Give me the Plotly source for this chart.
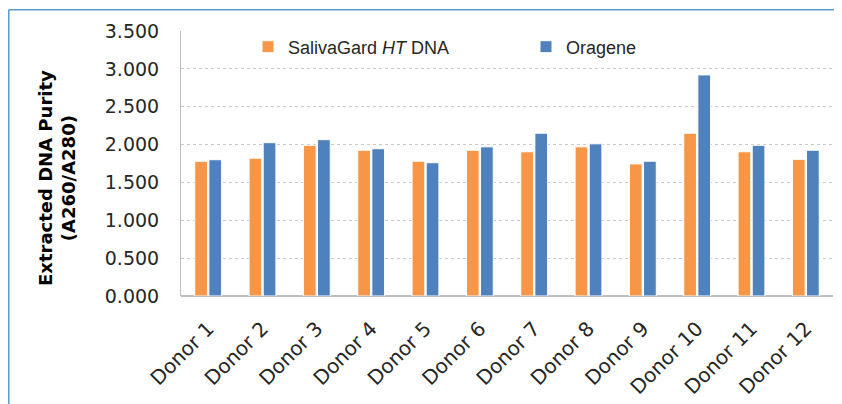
import plotly.graph_objects as go

donors = ["Donor 1", "Donor 2", "Donor 3", "Donor 4", "Donor 5", "Donor 6",
          "Donor 7", "Donor 8", "Donor 9", "Donor 10", "Donor 11", "Donor 12"]
salivagard = [1.78, 1.82, 1.99, 1.925, 1.78, 1.925, 1.905, 1.97, 1.745, 2.15, 1.905, 1.805]
oragene = [1.80, 2.025, 2.065, 1.945, 1.76, 1.97, 2.15, 2.01, 1.78, 2.92, 1.99, 1.925]
y_ticks = [0, 0.5, 1.0, 1.5, 2.0, 2.5, 3.0, 3.5]
y_tick_labels = ["0.000", "0.500", "1.000", "1.500", "2.000", "2.500", "3.000", "3.500"]

FONT = "DejaVu Sans, Verdana, sans-serif"
LFONT = "Liberation Sans, Arial, sans-serif"
TXT = "#262626"

fig = go.Figure()
fig.add_trace(go.Bar(x=donors, y=salivagard, name="SalivaGard <i>HT</i> DNA",
                     marker=dict(color="#F79646", line=dict(color="white", width=1))))
fig.add_trace(go.Bar(x=donors, y=oragene, name="Oragene",
                     marker=dict(color="#4F81BD", line=dict(color="white", width=1))))

# page body has 8px margin; work in figure coordinates (window - 8)
OFF = 8
W, H = 842 - OFF, 404 - OFF
L, R, T, B = 181 - OFF, 833 - OFF, 31 - OFF, 296 - OFF
pw, ph = R - L, B - T

def px(x):
    return (x - OFF - L) / pw

def py(y):
    return (B - (y - OFF)) / ph

fig.update_layout(
    width=W, height=H,
    margin=dict(l=L, r=W - R, t=T, b=H - B, pad=0),
    paper_bgcolor="white", plot_bgcolor="white",
    font=dict(family=FONT, size=17, color=TXT),
    barmode="group", bargap=0.48, bargroupgap=0.1,
    showlegend=True,
    legend=dict(orientation="h", x=px(248), y=py(47), xanchor="left", yanchor="middle",
                entrywidth=233, entrywidthmode="pixels",
                font=dict(family=LFONT, size=18, color=TXT), bgcolor="rgba(0,0,0,0)",
                traceorder="normal"),
    xaxis=dict(tickangle=-45, tickfont=dict(family=FONT, size=20, color=TXT),
               showline=False, ticks="", showgrid=False, automargin=False,
               ticklabelstandoff=16),
    yaxis=dict(range=[0, 3.5], tickvals=y_ticks, ticktext=y_tick_labels,
               tickfont=dict(family=FONT, size=19, color=TXT),
               showgrid=True, gridcolor="#C8C8C8", griddash="dot", gridwidth=1,
               showline=True, linecolor="#BFBFBF", linewidth=1,
               zeroline=True, zerolinecolor="#BFBFBF", zerolinewidth=1.5,
               ticks="", ticklabelstandoff=17, automargin=False),
    annotations=[dict(text="<b>Extracted DNA Purity<br>(A260/A280)</b>", textangle=-90,
                      xref="paper", yref="paper", x=px(57), y=py(178),
                      xanchor="center", yanchor="middle",
                      showarrow=False, font=dict(family=FONT, size=18, color="black"))],
    shapes=[
        dict(type="line", xref="paper", yref="paper", x0=px(8.75), x1=px(860), y0=py(9.75), y1=py(9.75),
             line=dict(color="#5B9BD5", width=1.5)),
        dict(type="line", xref="paper", yref="paper", x0=px(8.75), x1=px(8.75), y0=py(9.75), y1=py(420),
             line=dict(color="#5B9BD5", width=1.5)),
    ],
)

fig.write_html("out.html")
